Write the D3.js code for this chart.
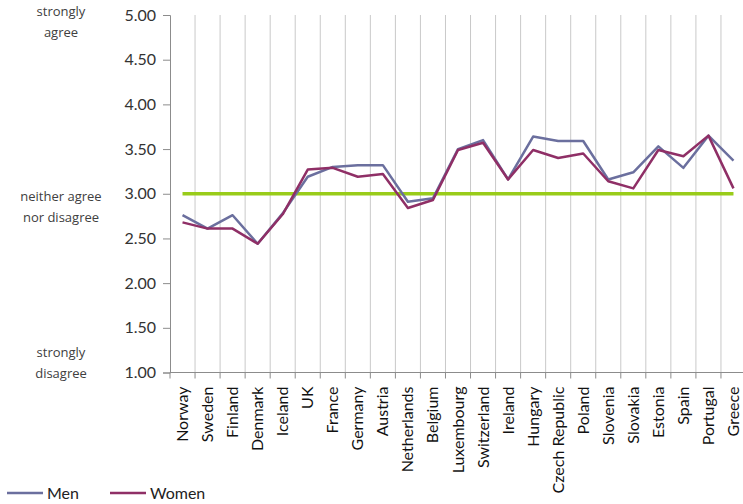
<!DOCTYPE html>
<html>
<head>
<meta charset="utf-8">
<script src="https://cdn.jsdelivr.net/npm/d3@7/dist/d3.min.js"></script>
<style>
  html, body { margin: 0; padding: 0; background: #fff; }
  svg { display: block; font-family: Lato, "Open Sans", sans-serif; }
</style>
</head>
<body>
<svg id="chart" width="743" height="504"></svg>
<script>
const countries = ["Norway", "Sweden", "Finland", "Denmark", "Iceland", "UK", "France",
  "Germany", "Austria", "Netherlands", "Belgium", "Luxembourg", "Switzerland", "Ireland",
  "Hungary", "Czech Republic", "Poland", "Slovenia", "Slovakia", "Estonia", "Spain",
  "Portugal", "Greece"];
const men = [2.76, 2.61, 2.76, 2.44, 2.78, 3.19, 3.30, 3.32, 3.32, 2.91, 2.95, 3.50,
  3.60, 3.16, 3.64, 3.59, 3.59, 3.16, 3.24, 3.53, 3.29, 3.65, 3.37];
const women = [2.68, 2.61, 2.61, 2.44, 2.77, 3.27, 3.29, 3.19, 3.22, 2.84, 2.93, 3.49,
  3.57, 3.16, 3.49, 3.40, 3.45, 3.14, 3.06, 3.49, 3.42, 3.65, 3.06];
const neutral = 3.00;
const yTicks = [1, 1.5, 2, 2.5, 3, 3.5, 4, 4.5, 5];
const scaleNotes = [
  { value: 5, lines: ["strongly", "agree"] },
  { value: 3, lines: ["neither agree", "nor disagree"] },
  { value: 1, lines: ["strongly", "disagree"] }
];
const seriesInfo = [
  { name: "Men", values: men, color: "#6b6f9e" },
  { name: "Women", values: women, color: "#8f2f66" }
];

const svg = d3.select("#chart");
const plotLeft = 170, plotRight = 746, plotTop = 15, plotBottom = 372.5;

const x = d3.scaleBand().domain(countries).range([plotLeft, plotRight]).padding(0);
const y = d3.scaleLinear().domain([1, 5]).range([plotBottom, plotTop]);
const cx = d => x(d) + x.bandwidth() / 2;

// vertical gridlines at category boundaries
svg.append("g")
  .selectAll("line")
  .data(d3.range(1, countries.length + 1))
  .join("line")
  .attr("x1", i => plotLeft + i * x.bandwidth())
  .attr("x2", i => plotLeft + i * x.bandwidth())
  .attr("y1", plotTop)
  .attr("y2", plotBottom)
  .attr("stroke", "#c9c9c9")
  .attr("stroke-width", 1);

// y axis
const yAxis = svg.append("g")
  .attr("transform", `translate(${plotLeft},0)`)
  .call(d3.axisLeft(y).tickValues(yTicks).tickFormat(d3.format(".2f")).tickSize(7).tickPadding(7));
yAxis.select(".domain").attr("stroke", "#8c8c8c");
yAxis.selectAll(".tick line").attr("stroke", "#8c8c8c");
yAxis.selectAll("text").attr("font-size", 16).attr("fill", "#333")
  .attr("font-family", "Lato, sans-serif");

// x axis: ticks on band boundaries
const xAxis = svg.append("g")
  .attr("transform", `translate(0,${plotBottom})`);
xAxis.append("line")
  .attr("x1", plotLeft).attr("x2", plotRight).attr("y1", 0).attr("y2", 0)
  .attr("stroke", "#8c8c8c");
xAxis.selectAll(".btick")
  .data(d3.range(countries.length + 1))
  .join("line")
  .attr("class", "btick")
  .attr("x1", i => plotLeft + i * x.bandwidth())
  .attr("x2", i => plotLeft + i * x.bandwidth())
  .attr("y1", 0).attr("y2", 6)
  .attr("stroke", "#8c8c8c");
xAxis.selectAll(".xlabel")
  .data(countries)
  .join("text")
  .attr("class", "xlabel")
  .attr("transform", d => `translate(${cx(d) + 5.5},${14}) rotate(-90)`)
  .attr("text-anchor", "end")
  .attr("font-size", 16)
  .attr("fill", "#111")
  .text(d => d);

// scale descriptors on the left (baseline offsets from the matching tick)
const noteOffset = { 5: 1, 3: 7, 1: -15.5 };
scaleNotes.forEach(note => {
  const t = svg.append("text")
    .attr("text-anchor", "middle")
    .attr("font-size", 13)
    .attr("fill", "#404040")
    .attr("font-family", "'Open Sans', sans-serif");
  note.lines.forEach((ln, i) => {
    t.append("tspan")
      .attr("x", 61)
      .attr("y", y(note.value) + noteOffset[note.value] + i * 21)
      .text(ln);
  });
});

// neutral reference line
svg.append("line")
  .attr("x1", cx(countries[0]))
  .attr("x2", cx(countries[countries.length - 1]))
  .attr("y1", y(neutral))
  .attr("y2", y(neutral))
  .attr("stroke", "#99cc1a")
  .attr("stroke-width", 3.5);

// series lines
const line = d3.line().x((d, i) => cx(countries[i])).y(d => y(d));
seriesInfo.forEach(s => {
  svg.append("path")
    .datum(s.values)
    .attr("d", line)
    .attr("fill", "none")
    .attr("stroke", s.color)
    .attr("stroke-width", 2.5)
    .attr("stroke-linejoin", "round");
});

// legend
const legend = svg.append("g").attr("transform", "translate(7,493)");
seriesInfo.forEach((s, i) => {
  const g = legend.append("g").attr("transform", `translate(${i * 103},0)`);
  g.append("line").attr("x1", 0).attr("x2", 36).attr("y1", 0).attr("y2", 0)
    .attr("stroke", s.color).attr("stroke-width", 2.5);
  g.append("text").attr("x", 40).attr("y", 6).attr("font-size", 16)
    .attr("fill", "#222").text(s.name);
});
</script>
</body>
</html>
